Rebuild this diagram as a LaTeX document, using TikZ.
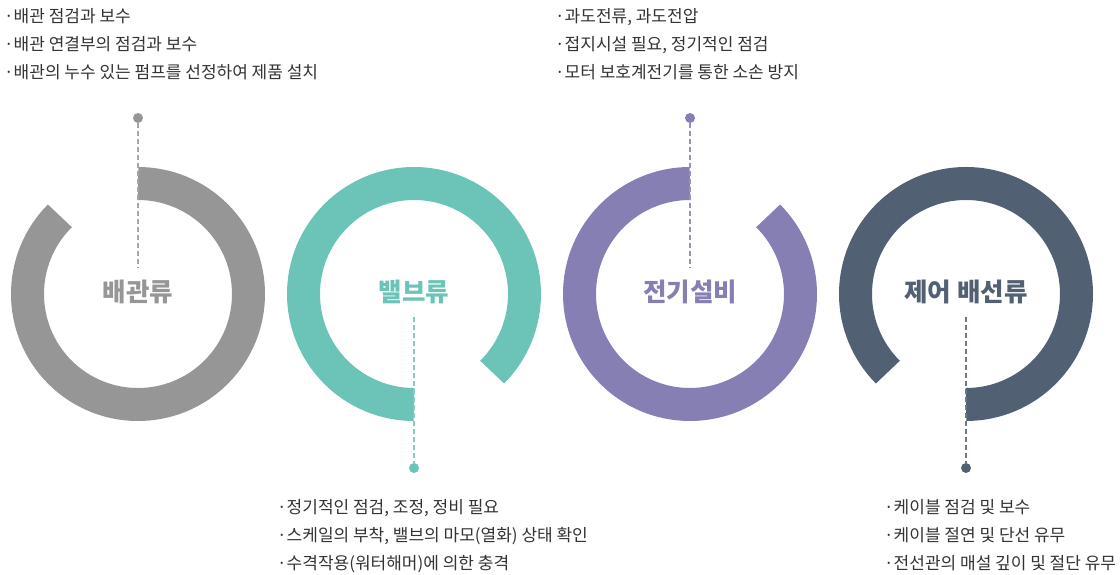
\documentclass[tikz,border=0pt]{standalone}
\usepackage{fontspec}
\newfontfamily\kr{Noto Sans CJK KR}
\usetikzlibrary{positioning}
\definecolor{pipec}{HTML}{969696}
\definecolor{valvec}{HTML}{6BC4B7}
\definecolor{elecc}{HTML}{857FB4}
\definecolor{wirec}{HTML}{526073}
\definecolor{txt}{HTML}{333333}

\begin{document}
\begin{tikzpicture}[x=1pt,y=1pt,node distance=28pt,
    ring/.style={line width=33pt},
    knob/.style={circle,fill,inner sep=0pt,minimum size=10pt},
    lead/.style={dash pattern=on 5pt off 3pt,line width=1.1pt},
    title/.style={font=\kr\bfseries\fontsize{25.5}{25.5}\selectfont,inner sep=0pt,
      text height=21.5pt,text depth=2pt},
    item/.style={font=\kr\fontsize{17}{17}\selectfont,text=txt,inner sep=0pt,
      anchor=west,text height=13.5pt,text depth=0.6pt}]
  \useasboundingbox (0,0) rectangle (1120,575);
  % rings
  \draw[ring,pipec] (138,281) ++(135:110.5pt) arc[start angle=135,end angle=450,radius=110.5pt];
  \draw[ring,valvec] (414,281) ++(-45:110.5pt) arc[start angle=-45,end angle=270,radius=110.5pt];
  \draw[ring,elecc] (690,281) ++(90:110.5pt) arc[start angle=90,end angle=405,radius=110.5pt];
  \draw[ring,wirec] (966,281) ++(270:110.5pt) arc[start angle=270,end angle=585,radius=110.5pt];
  % titles
  \node[title,text=pipec] (pipe) at (138,283) {배관류};
  \node[title,text=valvec] (valve) at (414,283) {밸브류};
  \node[title,text=elecc] (elec) at (690,283) {전기설비};
  \node[title,text=wirec] (wire) at (966,283) {제어 배선류};
  % knobs and leads
  \node[knob,pipec] (pipeknob) at (138,457) {};
  \node[knob,valvec] (valveknob) at (414,107) {};
  \node[knob,elecc] (elecknob) at (690,457) {};
  \node[knob,wirec] (wireknob) at (966,107) {};
  \draw[lead,pipec!85,shorten >=12pt] (pipeknob) -- (pipe);
  \draw[lead,valvec!85,shorten <=13pt] (valve) -- (valveknob);
  \draw[lead,elecc!85,shorten >=12pt] (elecknob) -- (elec);
  \draw[lead,wirec!85,shorten <=13pt] (wire) -- (wireknob);
  % items
  \node[item] (pipe1) at (4,559) {·배관 점검과 보수};
  \node[item,below=of pipe1.west,anchor=west] (pipe2) {·배관 연결부의 점검과 보수};
  \node[item,below=of pipe2.west,anchor=west] (pipe3) {·배관의 누수 있는 펌프를 선정하여 제품 설치};
  \node[item] (valve1) at (277,67.5) {·정기적인 점검, 조정, 정비 필요};
  \node[item,below=of valve1.west,anchor=west] (valve2) {·스케일의 부착, 밸브의 마모(열화) 상태 확인};
  \node[item,below=of valve2.west,anchor=west] (valve3) {·수격작용(워터해머)에 의한 충격};
  \node[item] (elec1) at (555,559) {·과도전류, 과도전압};
  \node[item,below=of elec1.west,anchor=west] (elec2) {·접지시설 필요, 정기적인 점검};
  \node[item,below=of elec2.west,anchor=west] (elec3) {·모터 보호계전기를 통한 소손 방지};
  \node[item] (wire1) at (884,67.5) {·케이블 점검 및 보수};
  \node[item,below=of wire1.west,anchor=west] (wire2) {·케이블 절연 및 단선 유무};
  \node[item,below=of wire2.west,anchor=west] (wire3) {·전선관의 매설 깊이 및 절단 유무};
\end{tikzpicture}
\end{document}
